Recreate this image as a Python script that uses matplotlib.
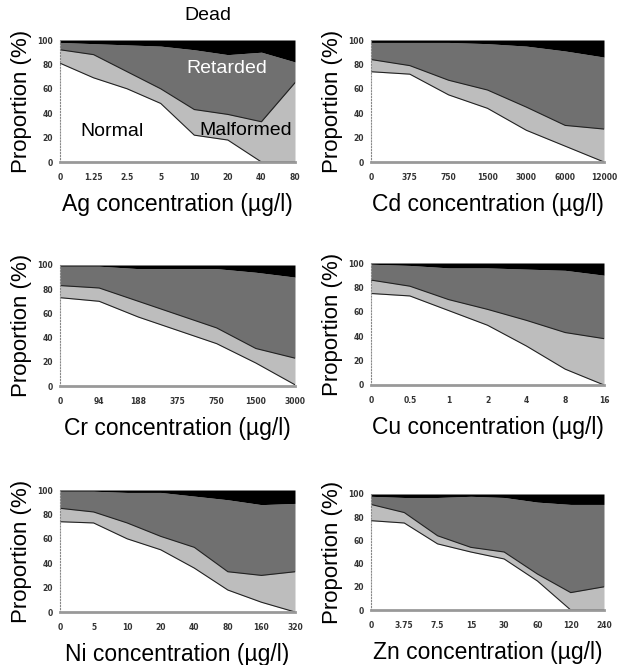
import matplotlib
matplotlib.use("Agg")
import matplotlib.pyplot as plt
import numpy as np

plt.rcParams["font.family"] = ["Liberation Sans", "DejaVu Sans"]

# cumulative boundaries (%): top of normal, top of malformed, top of retarded
ag_ticks = ["0", "1.25", "2.5", "5", "10", "20", "40", "80"]
ag_normal = [81, 69, 60, 48, 22, 18, 0, 0]
ag_malf = [92, 88, 74, 60, 43, 39, 33, 65]
ag_retard = [98, 97, 96, 95, 92, 88, 90, 82]

cd_ticks = ["0", "375", "750", "1500", "3000", "6000", "12000"]
cd_normal = [74, 72, 55, 44, 26, 13, 0]
cd_malf = [84, 79, 67, 59, 45, 30, 27]
cd_retard = [98, 98, 98, 97, 95, 91, 86]

cr_ticks = ["0", "94", "188", "375", "750", "1500", "3000"]
cr_normal = [73, 70, 57, 46, 35, 19, 1]
cr_malf = [83, 81, 70, 59, 48, 31, 23]
cr_retard = [99, 99, 97, 97, 97, 94, 90]

cu_ticks = ["0", "0.5", "1", "2", "4", "8", "16"]
cu_normal = [75, 73, 61, 49, 32, 13, 0]
cu_malf = [86, 81, 70, 62, 53, 43, 38]
cu_retard = [99, 98, 96, 96, 95, 94, 90]

ni_ticks = ["0", "5", "10", "20", "40", "80", "160", "320"]
ni_normal = [74, 73, 60, 51, 36, 18, 8, 0]
ni_malf = [85, 82, 73, 62, 53, 33, 30, 33]
ni_retard = [99, 99, 98, 98, 95, 92, 88, 89]

zn_ticks = ["0", "3.75", "7.5", "15", "30", "60", "120", "240"]
zn_normal = [77, 75, 57, 50, 44, 25, 0, 0]
zn_malf = [91, 84, 64, 54, 50, 31, 15, 20]
zn_retard = [98, 97, 97, 98, 97, 93, 91, 91]

panels = [
    ("Ag", ag_ticks, ag_normal, ag_malf, ag_retard, [60, 40, 295, 162]),
    ("Cd", cd_ticks, cd_normal, cd_malf, cd_retard, [371, 40, 604, 162]),
    ("Cr", cr_ticks, cr_normal, cr_malf, cr_retard, [60, 265, 295, 386]),
    ("Cu", cu_ticks, cu_normal, cu_malf, cu_retard, [371, 263, 604, 385]),
    ("Ni", ni_ticks, ni_normal, ni_malf, ni_retard, [60, 490, 295, 612]),
    ("Zn", zn_ticks, zn_normal, zn_malf, zn_retard, [371, 494, 604, 610]),
]

W, H = 622, 665
fig = plt.figure(figsize=(W / 100, H / 100), dpi=100)

for metal, ticks, normal, malf, retard, box in panels:
    x0, y0, x1, y1 = box
    ax = fig.add_axes([x0 / W, 1 - y1 / H, (x1 - x0) / W, (y1 - y0) / H])
    x = np.arange(len(ticks))
    ax.fill_between(x, 0, normal, color="white", lw=0)
    ax.fill_between(x, normal, malf, color="#bdbdbd", lw=0)
    ax.fill_between(x, malf, retard, color="#707070", lw=0)
    ax.fill_between(x, retard, 100, color="black", lw=0)
    ax.plot(x, normal, color="#222222", lw=0.8)
    ax.plot(x, malf, color="#222222", lw=0.8)
    ax.set_xlim(0, len(ticks) - 1)
    ax.set_ylim(0, 100)
    ax.set_xticks(x)
    ax.set_xticklabels(ticks)
    ax.set_yticks([0, 20, 40, 60, 80, 100])
    ax.tick_params(labelsize=5.5, length=0, pad=8)
    ax.tick_params(axis="y", pad=5)
    for lab in ax.get_xticklabels() + ax.get_yticklabels():
        lab.set_family("DejaVu Sans")
        lab.set_fontweight("bold")
        lab.set_color("#333333")
    for side in ["top", "right"]:
        ax.spines[side].set_visible(False)
    ax.spines["left"].set_color("#888888")
    ax.spines["left"].set_linestyle(":")
    ax.spines["bottom"].set_color("#999999")
    ax.spines["bottom"].set_linewidth(2)
    ax.set_ylabel("Proportion (%)", fontsize=16, labelpad=4)
    ax.set_xlabel(f"{metal} concentration (µg/l)", fontsize=16.5, labelpad=8)

    if metal == "Ag":
        ax.text(0.63, 1.20, "Dead", transform=ax.transAxes, fontsize=14,
                ha="center", va="center")
        ax.text(0.71, 0.77, "Retarded", transform=ax.transAxes, fontsize=14,
                ha="center", va="center", color="white")
        ax.text(0.22, 0.25, "Normal", transform=ax.transAxes, fontsize=14,
                ha="center", va="center")
        ax.text(0.79, 0.26, "Malformed", transform=ax.transAxes, fontsize=14,
                ha="center", va="center")

plt.savefig("out.png", dpi=100)
